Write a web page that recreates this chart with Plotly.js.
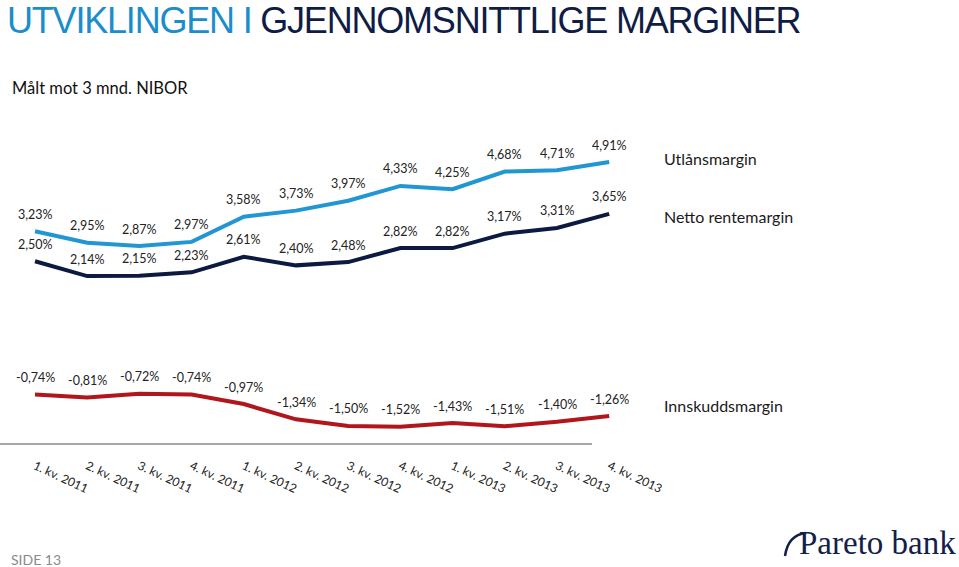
<!DOCTYPE html>
<html>
<head>
<meta charset="utf-8">
<script src="https://cdn.plot.ly/plotly-3.0.1.min.js"></script>
<style>
  html, body { margin: 0; padding: 0; background: #fff; }
  #chart { width: 959px; height: 567px; }
</style>
</head>
<body>
<div id="chart"></div>
<script>
// quarters on the x axis
const quarters = [
    "1. kv. 2011", "2. kv. 2011", "3. kv. 2011", "4. kv. 2011",
    "1. kv. 2012", "2. kv. 2012", "3. kv. 2012", "4. kv. 2012",
    "1. kv. 2013", "2. kv. 2013", "3. kv. 2013", "4. kv. 2013",
];
// margins in percent
const utlansmargin = [3.23, 2.95, 2.87, 2.97, 3.58, 3.73, 3.97, 4.33, 4.25, 4.68, 4.71, 4.91];
const nettoRentemargin = [2.50, 2.14, 2.15, 2.23, 2.61, 2.40, 2.48, 2.82, 2.82, 3.17, 3.31, 3.65];
const innskuddsmargin = [-0.74, -0.81, -0.72, -0.74, -0.97, -1.34, -1.50, -1.52, -1.43, -1.51, -1.40, -1.26];

const W = 959, H = 567;
const LABEL_FONT = "Lato, 'Open Sans', sans-serif";

// pixel -> paper helpers (margins are zero, so paper == figure)
const px = (x) => x / W;
const py = (y) => 1 - y / H;

function lineTrace(name, values, color) {
    return {
        type: "scatter",
        mode: "lines",
        name: name,
        x: quarters,
        y: values,
        line: { color: color, width: 4 },
        hoverinfo: "skip",
    };
}

function fmt(v) {
    return v.toFixed(2).replace(".", ",") + "%";
}

function valueLabels(values) {
    return values.map((v, i) => ({
        x: quarters[i],
        y: v,
        xref: "x",
        yref: "y",
        text: fmt(v),
        showarrow: false,
        yanchor: "middle",
        yshift: 17,
        font: { family: LABEL_FONT, size: 12.5, color: "#222" },
    }));
}

const data = [
    lineTrace("Utlånsmargin", utlansmargin, "#2196d3"),
    lineTrace("Netto rentemargin", nettoRentemargin, "#0c1940"),
    lineTrace("Innskuddsmargin", innskuddsmargin, "#b0161c"),
];

let annotations = []
    .concat(valueLabels(utlansmargin))
    .concat(valueLabels(nettoRentemargin))
    .concat(valueLabels(innskuddsmargin));

// series names on the right
[["Utlånsmargin", 158], ["Netto rentemargin", 216], ["Innskuddsmargin", 405]].forEach(([t, y]) => {
    annotations.push({
        xref: "paper", yref: "paper",
        x: px(662), y: py(y),
        xanchor: "left", yanchor: "middle",
        text: t, showarrow: false,
        font: { family: LABEL_FONT, size: 16, color: "#1a1a1a" },
    });
});

// page title and subtitle
annotations.push({
    xref: "paper", yref: "paper",
    x: px(5), y: py(20),
    xanchor: "left", yanchor: "middle", align: "left",
    text: '<span style="color:#1b8dcb">UTVIKLINGEN I</span> GJENNOMSNITTLIGE MARGINER',
    showarrow: false,
    font: { family: "'Liberation Sans', Arial, sans-serif", size: 36, color: "#0f1c45" },
});
annotations.push({
    xref: "paper", yref: "paper",
    x: px(10), y: py(88),
    xanchor: "left", yanchor: "middle",
    text: "Målt mot 3 mnd. NIBOR", showarrow: false,
    font: { family: LABEL_FONT, size: 16.5, color: "#111" },
});
annotations.push({
    xref: "paper", yref: "paper",
    x: px(9), y: py(559),
    xanchor: "left", yanchor: "middle",
    text: "SIDE 13", showarrow: false,
    font: { family: LABEL_FONT, size: 14, color: "#8a8a8a" },
});
annotations.push({
    xref: "paper", yref: "paper",
    x: px(797), y: py(543),
    xanchor: "left", yanchor: "middle",
    text: "Pareto bank", showarrow: false,
    font: { family: "'Liberation Serif', 'DejaVu Serif', serif", size: 33, color: "#13204a" },
});

// plot area: categories from x=35px with 52.2px step, y from 444px at 41.16px per point
const step = 52.2, x0 = 35;
const plotLeft = 0, plotRight = 640, plotTop = 130, plotBottom = 444;
const perUnit = 41.16, yAtBottom = -1.94;

const layout = {
    width: W,
    height: H,
    margin: { l: 0, r: 0, t: 0, b: 0, pad: 0 },
    paper_bgcolor: "#fff",
    plot_bgcolor: "rgba(0,0,0,0)",
    showlegend: false,
    xaxis: {
        type: "category",
        domain: [px(plotLeft), px(plotRight)],
        range: [(plotLeft - x0) / step, (plotRight - x0) / step],
        showgrid: false,
        zeroline: false,
        showline: false,
        ticks: "",
        tickangle: 25,
        ticklabelstandoff: 12,
        tickfont: { family: LABEL_FONT, size: 12, color: "#222" },
        automargin: false,
    },
    yaxis: {
        domain: [py(plotBottom), py(plotTop)],
        range: [yAtBottom, yAtBottom + (plotBottom - plotTop) / perUnit],
        showgrid: false,
        zeroline: false,
        showticklabels: false,
        ticks: "",
        automargin: false,
    },
    shapes: [
        {
            type: "line", xref: "paper", yref: "paper",
            x0: px(0), x1: px(592), y0: py(444), y1: py(444),
            line: { color: "#a6a6a6", width: 2 },
        },
        {
            type: "path", xref: "paper", yref: "paper",
            path: "M" + px(785) + "," + py(556) + " Q" + px(788) + "," + py(535) + " " + px(806) + "," + py(533),
            line: { color: "#13204a", width: 2.5 },
        },
    ],
    annotations: annotations,
};

Plotly.newPlot("chart", data, layout, { displayModeBar: false, staticPlot: true }).then(() => {
    // the slide title is set tight
    document.querySelectorAll("#chart .annotation-text").forEach((t) => {
        if (t.textContent.indexOf("UTVIKLINGEN") === 0) {
            t.style.letterSpacing = "-1.2px";
        }
    });
});
</script>
</body>
</html>
